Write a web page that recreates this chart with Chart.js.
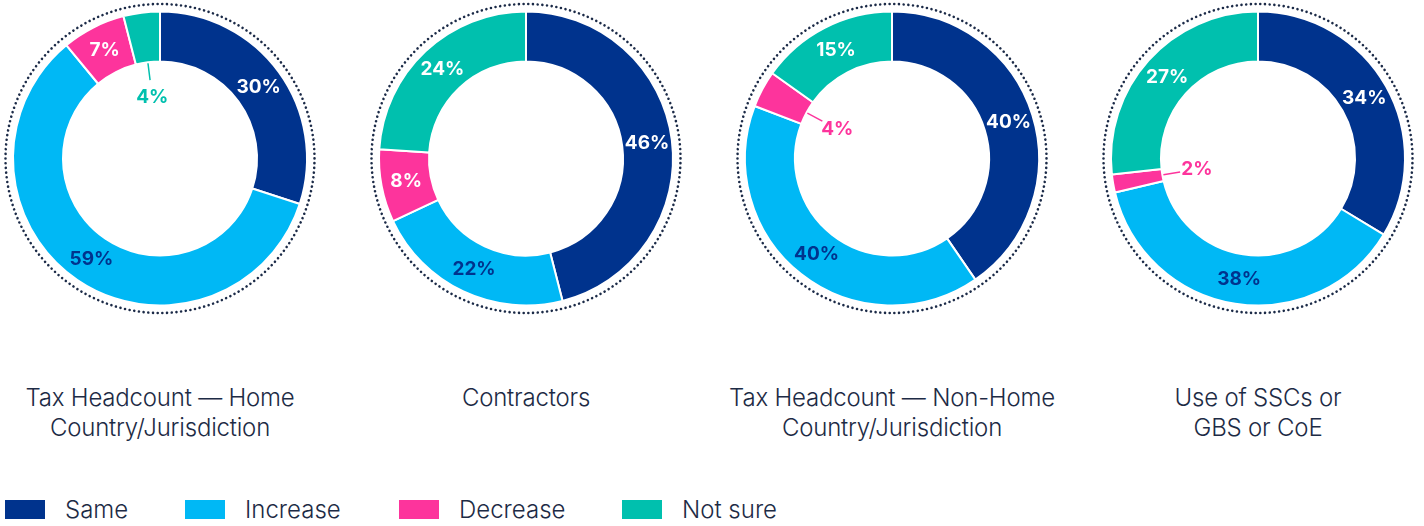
<!DOCTYPE html>
<html>
<head>
<meta charset="utf-8">
<script src="https://cdn.jsdelivr.net/npm/chart.js"></script>
<style>
  html, body { margin: 0; padding: 0; background: #fff; }
  body { width: 1424px; height: 526px; position: relative; overflow: hidden; font-family: Inter, "Noto Sans", sans-serif; color: #1d2b45; }
  .donut { position: absolute; top: 0; width: 320px; height: 317px; }
  .title { position: absolute; top: 383px; width: 366px; text-align: center; font-size: 24px; font-weight: 300; line-height: 30px; letter-spacing: -0.2px; }
  .legend { position: absolute; top: 496px; left: 0; height: 28px; }
  .legend span.box { position: absolute; top: 4px; width: 40px; height: 19px; }
  .legend span.txt { position: absolute; top: 0; font-size: 24px; font-weight: 300; line-height: 28px; white-space: nowrap; }
</style>
</head>
<body>
<div class="donut" style="left:0px"><canvas id="chart-home"></canvas></div>
<div class="donut" style="left:366px"><canvas id="chart-contractors"></canvas></div>
<div class="donut" style="left:732px"><canvas id="chart-nonhome"></canvas></div>
<div class="donut" style="left:1098px"><canvas id="chart-ssc"></canvas></div>
<div id="titles"></div>
<div class="legend" id="legend"></div>

<script>
// categories + colours
const categories = ['Same', 'Increase', 'Decrease', 'Not sure'];
const segmentColors = ['#00338D', '#00B8F5', '#FD349C', '#00C0AE'];

// chart titles (line breaks as in the picture)
const chartTitles = [
    ['Tax Headcount \u2014 Home', 'Country/Jurisdiction'],
    ['Contractors'],
    ['Tax Headcount \u2014 Non-Home', 'Country/Jurisdiction'],
    ['Use of SSCs or', 'GBS or CoE']
];

// values in %, order = categories
const homeValues = [30, 59, 7, 4];
const contractorValues = [46, 22, 8, 24];
const nonHomeValues = [40, 40, 4, 15];
const sscValues = [34, 38, 2, 27];

const centersX = [160, 526, 892, 1258];
const legendX = [5, 185, 399, 622];

//Dotted ring + percent labels
const donutExtras = {
    id: 'donutExtras',
    beforeDatasetsDraw(chart) {
        const meta = chart.getDatasetMeta(0);
        if (!meta.data.length) return;
        const arc = meta.data[0];
        const ctx = chart.ctx;
        ctx.save();
        ctx.beginPath();
        ctx.arc(arc.x, arc.y, arc.outerRadius + 7.5, 0, Math.PI * 2);
        ctx.setLineDash([0.01, 4.7]);
        ctx.lineCap = 'round';
        ctx.lineWidth = 2.6;
        ctx.strokeStyle = '#1b2a47';
        ctx.stroke();
        ctx.restore();
    },
    afterDatasetsDraw(chart) {
        const ctx = chart.ctx;
        const values = chart.data.datasets[0].data;
        const meta = chart.getDatasetMeta(0);
        ctx.save();
        ctx.font = 'bold 19px Inter, "Noto Sans", sans-serif';
        ctx.textAlign = 'center';
        ctx.textBaseline = 'middle';
        meta.data.forEach((arc, i) => {
            const p = arc.getProps(['x', 'y', 'startAngle', 'endAngle', 'innerRadius', 'outerRadius'], true);
            const mid = (p.startAngle + p.endAngle) / 2;
            const txt = values[i] + '%';
            if (values[i] >= 7) {
                const r = (p.innerRadius + p.outerRadius) / 2;
                ctx.fillStyle = i === 1 ? '#00338D' : '#ffffff';
                ctx.fillText(txt, p.x + Math.cos(mid) * r, p.y + Math.sin(mid) * r);
            } else {
                // small slice: leader line into the hole
                ctx.strokeStyle = segmentColors[i];
                ctx.lineWidth = 1.5;
                ctx.beginPath();
                ctx.moveTo(p.x + Math.cos(mid) * (p.innerRadius - 1), p.y + Math.sin(mid) * (p.innerRadius - 1));
                ctx.lineTo(p.x + Math.cos(mid) * (p.innerRadius - 18), p.y + Math.sin(mid) * (p.innerRadius - 18));
                ctx.stroke();
                const r = p.innerRadius - 35;
                ctx.fillStyle = segmentColors[i];
                ctx.fillText(txt, p.x + Math.cos(mid) * r, p.y + Math.sin(mid) * r);
            }
        });
        ctx.restore();
    }
};

function makeDonut(id, values) {
    const ctx = document.getElementById(id).getContext('2d');
    new Chart(ctx, {
        type: 'doughnut',
        data: {
            labels: categories,
            datasets: [{
                data: values,
                backgroundColor: segmentColors,
                borderColor: '#ffffff',
                borderWidth: 2
            }]
        },
        options: {
            responsive: true,
            maintainAspectRatio: false,
            animation: false,
            radius: 147,
            cutout: '66%',
            plugins: {
                legend: { display: false },
                tooltip: { enabled: false }
            },
            layout: { padding: 0 }
        },
        plugins: [donutExtras]
    });
}

makeDonut('chart-home', homeValues);
makeDonut('chart-contractors', contractorValues);
makeDonut('chart-nonhome', nonHomeValues);
makeDonut('chart-ssc', sscValues);

// titles under each donut
const titleBox = document.getElementById('titles');
chartTitles.forEach((lines, i) => {
    const d = document.createElement('div');
    d.className = 'title';
    d.style.left = (centersX[i] - 183) + 'px';
    d.innerHTML = lines.join('<br>');
    titleBox.appendChild(d);
});

// legend
const legend = document.getElementById('legend');
categories.forEach((name, i) => {
    const box = document.createElement('span');
    box.className = 'box';
    box.style.left = legendX[i] + 'px';
    box.style.background = segmentColors[i];
    legend.appendChild(box);
    const t = document.createElement('span');
    t.className = 'txt';
    t.style.left = (legendX[i] + 60) + 'px';
    t.textContent = name;
    legend.appendChild(t);
});
</script>
</body>
</html>
